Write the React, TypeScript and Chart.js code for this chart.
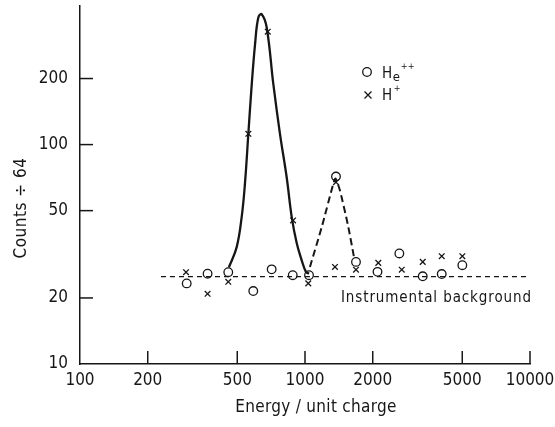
import React, { useEffect, useRef } from "react";
import { Chart, registerables } from "chart.js";

Chart.register(...registerables);

const FONT = '"Liberation Sans Narrow", "DejaVu Sans Condensed", "Roboto Condensed", "Liberation Sans", sans-serif';
const INK = "#161616";

// tick labels
const xTicks = [100, 200, 500, 1000, 2000, 5000, 10000];
const yTicks = [10, 20, 50, 100, 200];
const xTickMarks = [200, 500, 1000, 2000, 5000, 10000];
const yTickMarks = [20, 50, 100, 200];

// He++ (circles)
const heEnergy = [298, 369, 456, 589, 711, 882, 1042, 1373, 1685, 2100, 2626, 3336, 4052, 5003];
const heCounts = [23.3, 25.8, 26.2, 21.5, 27.0, 25.4, 25.4, 71.5, 29.2, 26.3, 31.9, 25.1, 25.7, 28.2];

// H+ (crosses)
const hEnergy = [296, 369, 456, 560, 683, 885, 1034, 1359, 1373, 1685, 2117, 2691, 3336, 4052, 5003];
const hCounts = [26.2, 20.9, 23.7, 112, 327, 45.1, 23.3, 27.7, 67.4, 26.9, 28.9, 26.9, 29.2, 31.0, 31.0];

// solid peak curve
const solidEnergy = [459, 497, 523, 541, 560, 580, 600, 620, 642, 676, 723, 774, 829, 873, 919, 967, 1010, 1042];
const solidCounts = [27.6, 34.1, 46.7, 66.5, 112, 189, 288, 379, 393, 341, 189, 112, 71, 46.7, 35.5, 29.7, 26.3, 25.8];

// dashed peak curve
const dashEnergy = [1052, 1187, 1336, 1366, 1430, 1553, 1651];
const dashCounts = [27.7, 42.1, 66.3, 70.1, 61.8, 42.8, 30.7];

// instrumental background
const bgEnergy = [229, 10000];
const bgCounts = [25, 25];

const toXY = (xs: number[], ys: number[]) => xs.map((x, i) => ({ x, y: ys[i] }));

const decor = {
  id: "decor",
  afterDraw(chart: any) {
    const { ctx, chartArea, scales } = chart;
    const x = scales.x;
    const y = scales.y;
    ctx.save();
    ctx.strokeStyle = INK;
    ctx.lineWidth = 1.5;
    for (const v of yTickMarks) {
      const py = y.getPixelForValue(v);
      ctx.beginPath();
      ctx.moveTo(chartArea.left, py);
      ctx.lineTo(chartArea.left + 13, py);
      ctx.stroke();
    }
    for (const v of xTickMarks) {
      const px = x.getPixelForValue(v);
      ctx.beginPath();
      ctx.moveTo(px, chartArea.bottom);
      ctx.lineTo(px, chartArea.bottom - 13);
      ctx.stroke();
    }
    ctx.fillStyle = INK;
    ctx.textBaseline = "middle";
    // axis titles
    ctx.font = `17px ${FONT}`;
    ctx.textAlign = "center";
    (ctx as any).letterSpacing = "0.3px";
    ctx.fillText("Energy / unit charge", 316, 408);
    (ctx as any).letterSpacing = "0.5px";
    ctx.save();
    ctx.translate(22, 208);
    ctx.rotate(-Math.PI / 2);
    ctx.fillText("Counts \u00f7 64", 0, 0);
    ctx.restore();
    // background label
    ctx.font = `15px ${FONT}`;
    ctx.textAlign = "left";
    const label = "Instrumental background";
    (ctx as any).letterSpacing = "0px";
    const w = ctx.measureText(label).width;
    const sp = Math.max(0, (190 - w) / (label.length - 1));
    (ctx as any).letterSpacing = `${sp}px`;
    ctx.fillText(label, 341, 298);
    (ctx as any).letterSpacing = "0px";
    // legend
    ctx.lineWidth = 1.3;
    ctx.beginPath();
    ctx.arc(367, 72, 4.3, 0, Math.PI * 2);
    ctx.stroke();
    ctx.beginPath();
    ctx.moveTo(364.5, 91.5);
    ctx.lineTo(371.5, 98.5);
    ctx.moveTo(371.5, 91.5);
    ctx.lineTo(364.5, 98.5);
    ctx.stroke();
    ctx.textBaseline = "alphabetic";
    ctx.font = `15px ${FONT}`;
    ctx.fillText("H", 382, 78);
    let hw = ctx.measureText("H").width;
    ctx.font = `13px ${FONT}`;
    ctx.fillText("e", 382 + hw + 0.5, 81);
    const ew = ctx.measureText("e").width;
    ctx.font = `9px ${FONT}`;
    ctx.fillText("++", 382 + hw + ew + 1.5, 69);
    ctx.font = `15px ${FONT}`;
    ctx.fillText("H", 382, 100);
    hw = ctx.measureText("H").width;
    ctx.font = `9px ${FONT}`;
    ctx.fillText("+", 382 + hw + 1.5, 91);
    ctx.restore();
  },
};

export default function App() {
  const ref = useRef<HTMLCanvasElement | null>(null);
  useEffect(() => {
    if (!ref.current) return;
    const chart = new Chart(ref.current, {
      type: "scatter",
      data: {
        datasets: [
          {
            type: "line",
            data: toXY(bgEnergy, bgCounts),
            borderColor: INK,
            borderWidth: 1.2,
            borderDash: [5, 4],
            pointRadius: 0,
            fill: false,
          },
          {
            type: "line",
            data: toXY(solidEnergy, solidCounts),
            borderColor: INK,
            borderWidth: 2.3,
            pointRadius: 0,
            tension: 0.4,
            fill: false,
          },
          {
            type: "line",
            data: toXY(dashEnergy, dashCounts),
            borderColor: INK,
            borderWidth: 2,
            borderDash: [7, 4],
            pointRadius: 0,
            tension: 0.2,
            fill: false,
          },
          {
            data: toXY(heEnergy, heCounts),
            pointStyle: "circle",
            pointRadius: 4.3,
            borderColor: INK,
            borderWidth: 1.3,
            backgroundColor: "rgba(255,255,255,0)",
          },
          {
            data: toXY(hEnergy, hCounts),
            pointStyle: "crossRot",
            pointRadius: 4,
            borderColor: INK,
            borderWidth: 1.3,
            backgroundColor: INK,
          },
        ],
      } as any,
      options: {
        responsive: false,
        animation: false,
        layout: { padding: { left: 0, right: 25, top: 5, bottom: 0 } },
        plugins: { legend: { display: false }, tooltip: { enabled: false } },
        scales: {
          x: {
            type: "logarithmic",
            min: 100,
            max: 10000,
            afterBuildTicks: (s: any) => {
              s.ticks = xTicks.map((v) => ({ value: v }));
            },
            afterFit: (s: any) => {
              s.height = 63;
              s.paddingLeft = 0;
              s.paddingRight = 0;
            },
            ticks: {
              callback: (v: any) => String(v),
              font: { family: FONT, size: 17 },
              color: INK,
              padding: 6,
              maxRotation: 0,
              autoSkip: false,
            },
            grid: { display: true, drawOnChartArea: false, drawTicks: false },
            border: { color: INK, width: 1.5 },
          },
          y: {
            type: "logarithmic",
            min: 10,
            max: 430,
            afterBuildTicks: (s: any) => {
              s.ticks = yTicks.map((v) => ({ value: v }));
            },
            afterFit: (s: any) => {
              s.width = 80;
              s.paddingTop = 0;
              s.paddingBottom = 0;
            },
            ticks: {
              callback: (v: any) => String(v),
              font: { family: FONT, size: 17 },
              color: INK,
              padding: 12,
              autoSkip: false,
            },
            grid: { display: true, drawOnChartArea: false, drawTicks: false },
            border: { color: INK, width: 1.5 },
          },
        },
      } as any,
      plugins: [decor],
    });
    return () => chart.destroy();
  }, []);
  return (
    <div style={{ position: "fixed", left: 0, top: 0, width: 555, height: 427, background: "#fff" }}>
      <canvas ref={ref} width={555} height={427} />
    </div>
  );
}
